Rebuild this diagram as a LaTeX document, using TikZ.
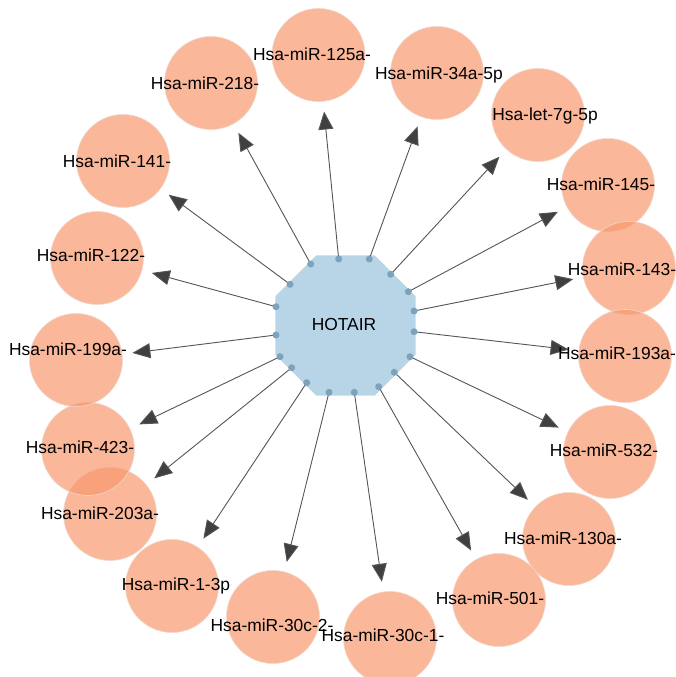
\documentclass[tikz,border=0pt]{standalone}
\usepackage{fontspec}
\setmainfont{Liberation Sans}
\usetikzlibrary{arrows.meta,calc}
\definecolor{mirfill}{RGB}{248,152,109}
\definecolor{mirline}{RGB}{240,215,205}
\definecolor{hotfill}{RGB}{184,213,231}
\definecolor{dotfill}{RGB}{125,163,188}
\definecolor{edgecol}{RGB}{85,85,85}
\definecolor{tipcol}{RGB}{64,64,64}
\tikzset{
  mir/.style={circle, minimum size=93pt, inner sep=0pt, fill=mirfill, fill opacity=0.7, draw=mirline, line width=0.6pt},
  mirlabel/.style={inner sep=0pt, text height=0.716em, text depth=0pt, font=\fontsize{17.4}{20}\selectfont, text=black},
  hotlabel/.style={inner sep=0pt, text height=0.716em, text depth=0pt, font=\fontsize{17.4}{20}\selectfont},
  edge/.style={draw=edgecol, line width=0.9pt, -{Triangle[length=18pt,width=15pt,fill=tipcol]}, shorten >=10pt},
  portdot/.style={fill=dotfill, draw=none}
}
\begin{document}
\begin{tikzpicture}[x=1pt,y=-1pt]
\useasboundingbox (0,0) rectangle (675,677);
% HOTAIR octagon
\coordinate (hc) at (345.5,325.5);
\fill[hotfill] ($(hc)+(22.5:76)$) \foreach \a in {67.5,112.5,...,337.5} { -- ($(hc)+(\a:76)$) } -- cycle;
\node[hotlabel] (hot) at (344,327) {HOTAIR};
% ports
\coordinate (p1) at (310.7,264);
\coordinate (p2) at (338.7,259);
\coordinate (p3) at (369.3,259);
\coordinate (p4) at (390.7,274.3);
\coordinate (p5) at (408.3,291.7);
\coordinate (p6) at (414,311);
\coordinate (p7) at (414,331.7);
\coordinate (p8) at (410,356.7);
\coordinate (p9) at (394.3,372.3);
\coordinate (p10) at (378.7,386.7);
\coordinate (p11) at (354.3,392.3);
\coordinate (p12) at (329,392.3);
\coordinate (p13) at (306.7,382.7);
\coordinate (p14) at (291.7,367.7);
\coordinate (p15) at (280,356.7);
\coordinate (p16) at (276,335);
\coordinate (p17) at (276,306.7);
\coordinate (p18) at (290,284.3);
% miRNA circles
\node[mir] (c1) at (211,83) {};
\node[mir] (c2) at (318.5,55) {};
\node[mir] (c3) at (437,73) {};
\node[mir] (c4) at (538,115) {};
\node[mir] (c5) at (608,185) {};
\node[mir] (c6) at (629,268) {};
\node[mir] (c7) at (625,356) {};
\node[mir] (c8) at (610,452) {};
\node[mir] (c9) at (569,539) {};
\node[mir] (c10) at (499,600) {};
\node[mir] (c11) at (390,638) {};
\node[mir] (c12) at (273,617) {};
\node[mir] (c13) at (172,586) {};
\node[mir] (c14) at (110,514) {};
\node[mir] (c15) at (88,449) {};
\node[mir] (c16) at (76,360) {};
\node[mir] (c17) at (97,258) {};
\node[mir] (c18) at (123,161) {};
% edges
\foreach \i in {1,...,18} { \draw[edge] (p\i) -- (c\i); }
\foreach \i in {1,...,18} { \fill[portdot] (p\i) circle (3.5pt); }
% labels
\node[mirlabel] (l1) at (205,86) {Hsa-miR-218-};
\node[mirlabel] (l2) at (312,57) {Hsa-miR-125a-};
\node[mirlabel] (l3) at (439,76) {Hsa-miR-34a-5p};
\node[mirlabel] (l4) at (545,117) {Hsa-let-7g-5p};
\node[mirlabel] (l5) at (601,187) {Hsa-miR-145-};
\node[mirlabel] (l6) at (622,272) {Hsa-miR-143-};
\node[mirlabel] (l7) at (617,356) {Hsa-miR-193a-};
\node[mirlabel] (l8) at (604,453) {Hsa-miR-532-};
\node[mirlabel] (l9) at (563,541) {Hsa-miR-130a-};
\node[mirlabel] (l10) at (490,601) {Hsa-miR-501-};
\node[mirlabel] (l11) at (383,638) {Hsa-miR-30c-1-};
\node[mirlabel] (l12) at (272,628) {Hsa-miR-30c-2-};
\node[mirlabel] (l13) at (176,587) {Hsa-miR-1-3p};
\node[mirlabel] (l14) at (100,516) {Hsa-miR-203a-};
\node[mirlabel] (l15) at (80,450) {Hsa-miR-423-};
\node[mirlabel] (l16) at (68,352) {Hsa-miR-199a-};
\node[mirlabel] (l17) at (91,258) {Hsa-miR-122-};
\node[mirlabel] (l18) at (117,164) {Hsa-miR-141-};
\end{tikzpicture}
\end{document}
